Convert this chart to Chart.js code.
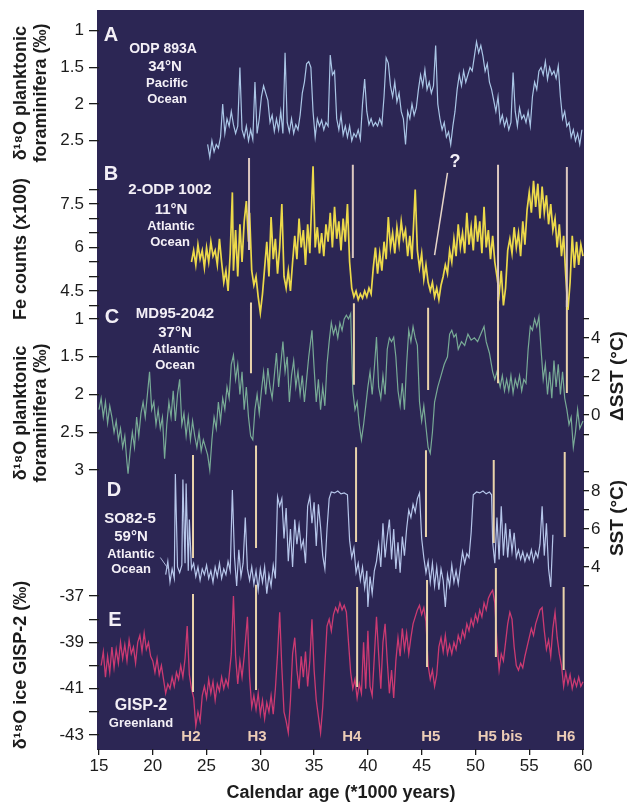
<!DOCTYPE html>
<html lang="en">
<head>
<meta charset="UTF-8" />
<title>Heinrich events in five records, 15-60 ka</title>
<script src="https://cdn.jsdelivr.net/npm/chart.js"></script>
<style>
  body { margin: 0; background: #fff; }
  #stage { position: relative; width: 627px; height: 803px; }
  #stage canvas { position: absolute; left: 0; top: 0; }
</style>
</head>
<body>
<div id="stage">
  <canvas id="chartE" width="627" height="803"></canvas>
  <canvas id="chartD" width="627" height="803"></canvas>
  <canvas id="chartCR" width="627" height="803"></canvas>
  <canvas id="chartC" width="627" height="803"></canvas>
  <canvas id="chartB" width="627" height="803"></canvas>
  <canvas id="chartA" width="627" height="803"></canvas>
</div>

<script>
// ---------- data (age in kyr) ----------

// A: ODP 893A, d18O planktonic (permil)
const ageA = [25.1,25.3,25.5,25.7,25.9,26.1,26.3,26.5,26.7,26.9,27.1,27.3,27.5,27.7,27.9,28.1,28.3,28.5,28.7,28.9,
  29.1,29.3,29.5,29.7,29.9,30.1,30.3,30.5,30.7,30.9,31.1,31.3,31.5,31.7,31.9,32.1,32.3,32.5,32.7,32.9,
  33.1,33.3,33.5,33.7,33.9,34.1,34.3,34.5,34.7,34.9,35.1,35.3,35.5,35.7,35.9,36.1,36.3,36.5,36.7,36.9,
  37.1,37.3,37.5,37.7,37.9,38.1,38.3,38.5,38.7,38.9,39.1,39.3,39.5,39.7,39.9,40.1,40.3,40.5,40.7,40.9,
  41.1,41.3,41.5,41.7,41.9,42.1,42.3,42.5,42.7,42.9,43.1,43.3,43.5,43.7,43.9,44.1,44.3,44.5,44.7,44.9,
  45.1,45.3,45.5,45.7,45.9,46.1,46.3,46.5,46.7,46.9,47.1,47.3,47.5,47.7,47.9,48.1,48.3,48.5,48.7,48.9,
  49.1,49.3,49.5,49.7,49.9,50.1,50.3,50.5,50.7,50.9,51.1,51.3,51.5,51.7,51.9,52.1,52.3,52.5,52.7,52.9,
  53.1,53.3,53.5,53.7,53.9,54.1,54.3,54.5,54.7,54.9,55.1,55.3,55.5,55.7,55.9,56.1,56.3,56.5,56.7,56.9,
  57.1,57.3,57.5,57.7,57.9,58.1,58.3,58.5,58.7,58.9,59.1,59.3,59.5,59.7,59.9];
const d18oA = [2.55,2.72,2.5,2.65,2.55,2.6,2.45,2.0,2.4,2.2,2.3,2.1,2.28,2.4,2.3,1.5,2.35,2.45,2.3,2.5,
  2.35,2.48,1.7,2.4,2.2,1.9,1.75,1.85,1.95,2.25,2.15,2.37,2.2,2.35,2.1,2.4,1.3,2.25,2.38,2.2,
  2.4,2.28,2.35,2.15,1.85,1.7,1.45,1.42,1.5,2.1,2.45,2.2,2.3,2.22,2.35,2.25,2.3,1.33,1.6,1.55,
  2.2,2.35,2.15,2.42,2.3,2.45,2.3,2.5,2.4,2.45,2.35,2.48,2.0,1.66,2.1,2.28,2.2,2.3,2.25,2.3,
  2.2,2.28,1.9,1.37,1.44,1.75,1.9,1.7,1.97,1.85,2.1,2.2,2.55,2.1,2.2,2.0,2.15,2.05,1.8,1.6,
  1.75,1.53,1.8,1.7,1.85,1.75,1.2,2.0,2.2,2.35,2.25,2.45,2.38,2.55,2.3,2.1,1.8,1.6,1.75,1.55,
  1.7,1.6,1.5,1.55,1.35,1.15,1.3,1.2,1.35,1.55,1.45,1.7,1.8,1.95,2.1,1.9,2.25,2.15,2.3,2.2,
  2.35,2.25,1.57,2.1,2.3,2.05,2.2,2.15,2.25,2.1,2.3,1.9,1.7,1.8,1.55,1.5,1.6,1.42,1.66,1.5,
  1.6,1.55,1.65,1.48,1.9,2.2,2.1,2.3,2.25,2.45,2.35,2.5,2.4,2.55,2.35];

// B: 2-ODP 1002, Fe counts (x100)
const ageB = [23.6,23.8,24.0,24.2,24.4,24.6,24.8,25.0,25.2,25.4,25.6,25.8,26.0,26.2,26.4,26.6,26.8,27.0,27.2,27.4,
  27.5,27.7,27.9,28.1,28.3,28.5,28.7,28.9,29.0,29.2,29.4,29.6,29.8,30.0,30.2,30.4,30.6,30.8,31.0,31.2,
  31.4,31.6,31.8,32.0,32.2,32.4,32.6,32.8,33.0,33.2,33.4,33.6,33.8,34.0,34.2,34.4,34.6,34.9,35.1,35.3,
  35.5,35.7,35.9,36.1,36.3,36.5,36.7,36.9,37.1,37.3,37.5,37.7,37.9,38.1,38.3,38.5,38.7,38.9,39.1,39.3,
  39.5,39.7,39.9,40.1,40.3,40.5,40.7,40.9,41.1,41.3,41.5,41.7,41.9,42.1,42.3,42.5,42.7,42.9,43.1,43.3,
  43.5,43.7,43.9,44.1,44.4,44.6,44.8,45.0,45.2,45.4,45.6,45.8,46.0,46.2,46.4,46.6,46.8,47.0,47.2,47.4,
  47.6,47.8,48.0,48.2,48.4,48.6,48.8,49.0,49.2,49.4,49.6,49.8,50.0,50.2,50.4,50.6,50.8,51.0,51.2,51.4,
  51.6,51.8,52.0,52.2,52.4,52.6,52.8,53.0,53.2,53.4,53.6,53.8,54.0,54.2,54.4,54.6,54.8,55.0,55.2,55.4,
  55.6,55.8,56.0,56.2,56.4,56.6,56.8,57.0,57.2,57.4,57.6,57.8,58.0,58.2,58.4,58.6,58.8,59.0,59.2,59.4,
  59.6,59.8,60.0];
const feB = [5.5,5.9,5.4,6.1,5.6,5.9,5.3,6.0,5.5,6.2,5.7,5.9,5.4,6.3,5.5,4.8,5.2,4.5,5.8,7.9,
  5.2,6.6,5.0,6.8,5.5,6.9,7.6,6.2,7.2,5.2,4.7,5.0,4.3,3.75,4.4,5.3,6.2,5.0,7.05,5.6,
  6.3,5.1,6.0,7.5,5.0,4.6,5.2,4.5,5.5,6.4,5.6,7.0,6.0,6.6,5.4,6.8,5.8,8.8,6.0,6.7,
  5.8,6.5,5.7,6.8,6.2,7.2,6.0,7.4,6.3,6.9,5.9,7.0,6.2,7.5,5.5,4.6,4.3,4.5,4.2,4.4,
  4.25,4.5,4.3,4.6,4.4,5.3,6.0,5.1,5.8,5.2,6.2,5.6,7.05,6.0,6.5,5.8,6.7,6.1,6.9,6.3,
  6.6,5.7,6.4,5.6,8.0,5.9,5.3,5.8,4.9,5.4,4.8,4.5,4.8,4.3,4.6,4.2,4.7,5.0,5.4,5.1,
  5.9,5.5,6.3,5.7,6.8,6.0,6.5,5.8,7.2,6.1,6.7,5.9,7.1,6.2,6.9,5.8,7.4,6.0,6.6,5.6,
  6.4,5.5,5.0,4.4,5.2,4.0,4.6,5.9,6.3,5.8,6.7,6.0,6.5,5.7,6.9,6.1,7.3,7.9,7.2,8.3,
  7.4,8.2,7.0,8.1,7.2,7.8,6.8,7.5,6.6,7.0,6.0,6.8,5.7,6.4,5.0,3.85,4.8,6.4,5.3,6.2,
  5.4,6.1,5.7];

// C: MD95-2042, d18O planktonic (permil)
const ageC = [15.0,15.2,15.4,15.6,15.8,16.0,16.2,16.4,16.6,16.8,17.0,17.2,17.4,17.6,17.7,17.9,18.1,18.3,18.5,18.7,
  18.9,19.1,19.3,19.5,19.7,19.9,20.1,20.3,20.5,20.7,20.9,21.1,21.3,21.5,21.7,21.9,22.1,22.3,22.5,22.7,
  22.9,23.1,23.3,23.5,23.7,23.9,24.1,24.3,24.5,24.7,24.9,25.1,25.3,25.5,25.7,25.9,26.1,26.3,26.5,26.7,
  26.9,27.1,27.3,27.5,27.7,27.9,28.1,28.3,28.5,28.7,28.9,29.1,29.3,29.5,29.7,29.9,30.1,30.3,30.5,30.7,
  30.9,31.1,31.3,31.5,31.7,31.9,32.1,32.3,32.5,32.7,32.9,33.1,33.3,33.5,33.7,33.9,34.1,34.3,34.5,34.8,
  35.0,35.2,35.4,35.6,35.8,36.0,36.2,36.4,36.6,36.8,37.0,37.2,37.4,37.6,37.8,38.0,38.2,38.4,38.6,38.8,
  39.0,39.2,39.4,39.6,39.8,40.0,40.2,40.4,40.6,40.8,41.0,41.2,41.4,41.6,41.8,42.0,42.2,42.4,42.6,42.8,
  43.0,43.2,43.4,43.6,43.8,44.0,44.2,44.4,44.6,44.8,45.0,45.2,45.4,45.6,45.8,46.0,46.2,46.5,46.8,47.1,
  47.4,47.6,47.8,48.0,48.2,48.4,48.7,49.0,49.3,49.6,49.9,50.2,50.5,50.8,51.0,51.3,51.6,51.8,52.0,52.3,
  52.5,52.7,52.9,53.1,53.3,53.5,53.7,53.9,54.1,54.3,54.5,54.7,54.9,55.1,55.3,55.5,55.7,55.9,56.1,56.3,
  56.5,56.7,56.9,57.1,57.3,57.5,57.7,57.9,58.1,58.3,58.5,58.7,58.9,59.1,59.3,59.5,59.7,60.0];
const d18oC = [2.2,2.05,2.3,2.1,2.38,2.15,2.3,2.5,2.35,2.6,2.45,2.7,2.55,2.9,3.05,2.75,2.5,2.7,2.3,2.55,
  2.25,2.1,2.3,2.0,1.7,2.2,2.1,2.4,2.2,2.45,2.3,2.85,2.4,2.1,2.3,1.95,2.35,2.0,1.8,2.4,
  2.25,2.55,2.3,2.6,2.35,2.55,2.7,2.5,2.75,2.6,2.7,2.8,3.0,2.6,2.3,2.45,2.1,2.35,2.05,2.2,
  1.9,2.05,1.6,1.48,1.8,1.6,2.0,1.7,2.2,1.9,2.3,2.55,2.6,2.2,2.0,2.25,1.95,1.7,2.0,1.65,
  1.9,2.05,1.75,1.45,1.9,1.6,1.3,1.7,1.5,2.1,1.75,1.55,1.9,1.7,2.0,1.75,2.1,1.8,1.5,1.15,
  1.65,2.1,1.8,2.2,1.9,2.15,1.6,1.3,1.05,1.2,1.1,1.25,1.05,1.15,1.0,0.95,1.0,0.93,1.95,2.2,
  2.1,2.4,2.6,2.4,2.15,1.9,1.7,2.0,1.65,1.24,1.9,2.05,1.75,2.0,1.4,1.25,1.3,1.24,1.5,1.95,
  2.15,1.85,2.2,1.6,1.15,1.3,1.1,1.25,1.35,2.1,2.35,2.15,2.43,2.7,2.78,2.5,2.1,1.9,1.75,1.6,
  1.5,1.2,1.15,1.24,1.2,1.4,1.3,1.35,1.2,1.28,1.25,1.3,1.2,1.1,1.3,1.45,1.7,1.8,1.7,1.9,
  1.75,1.95,1.8,1.95,1.75,1.98,1.8,1.9,1.75,1.95,1.8,1.85,1.4,1.1,1.15,1.0,1.1,0.97,1.4,1.8,
  1.6,2.0,1.7,2.05,1.55,1.9,1.6,2.0,1.7,2.05,2.2,2.4,2.3,2.7,2.5,2.2,2.45,2.35];

// D: SO82-5, SST (deg C)
const ageD = [21.2,21.4,21.6,21.8,22.0,22.1,22.3,22.5,22.7,22.8,23.0,23.1,23.3,23.4,23.6,23.8,24.0,24.2,24.4,24.6,
  24.8,25.0,25.2,25.4,25.6,25.8,26.0,26.2,26.4,26.6,26.8,27.0,27.2,27.4,27.6,27.8,28.0,28.2,28.4,28.6,
  28.8,29.0,29.2,29.4,29.6,29.8,30.0,30.2,30.4,30.6,30.8,31.0,31.2,31.4,31.6,31.8,32.0,32.2,32.4,32.6,
  32.8,33.0,33.2,33.4,33.6,33.8,34.0,34.2,34.4,34.6,34.8,35.0,35.2,35.4,35.6,35.8,36.0,36.2,36.4,36.6,
  36.9,37.2,37.5,37.8,38.1,38.3,38.5,38.7,38.9,39.1,39.3,39.5,39.7,39.9,40.0,40.2,40.4,40.6,40.8,41.0,
  41.2,41.4,41.6,41.8,42.0,42.2,42.4,42.6,42.8,43.0,43.2,43.4,43.6,43.8,44.0,44.2,44.4,44.6,44.8,45.0,
  45.2,45.4,45.6,45.8,46.0,46.2,46.4,46.6,46.8,47.0,47.2,47.4,47.6,47.8,48.0,48.2,48.4,48.6,48.8,49.0,
  49.2,49.4,49.6,49.8,50.1,50.4,50.7,51.0,51.3,51.5,51.6,51.8,52.0,52.2,52.4,52.6,52.8,53.0,53.2,53.4,
  53.6,53.8,54.0,54.2,54.4,54.6,54.8,55.0,55.2,55.4,55.6,55.8,56.0,56.2,56.4,56.6,56.8,57.0,57.2];
const sstD = [3.6,4.3,3.2,3.9,3.4,8.9,4.0,3.7,4.1,8.6,4.2,8.4,3.8,6.5,3.9,4.2,3.5,4.0,3.3,3.9,
  3.6,4.1,3.4,3.8,3.2,4.0,3.5,4.2,3.4,3.9,3.6,4.3,3.8,8.05,4.5,3.0,4.9,3.5,4.2,6.6,
  3.9,3.3,4.0,3.1,3.8,2.8,3.9,3.2,4.0,2.6,3.6,3.0,4.1,3.4,7.7,7.2,7.6,5.5,7.1,4.3,
  6.0,4.0,6.5,5.2,6.2,5.0,5.4,4.2,7.2,7.7,6.3,7.4,5.1,7.3,6.1,4.6,3.9,6.0,7.6,7.95,
  7.9,8.0,7.85,7.9,7.8,5.4,4.5,5.0,3.7,4.2,3.3,4.0,2.9,3.8,1.9,3.5,2.6,3.8,4.3,5.2,
  4.0,6.3,4.5,5.6,6.5,4.4,6.0,3.9,5.3,3.7,5.6,4.6,6.0,7.0,6.6,7.3,6.9,7.6,7.9,5.5,
  4.5,3.7,4.3,3.2,4.2,3.0,4.0,2.8,3.9,3.3,1.9,3.6,3.0,4.1,3.2,3.8,3.1,4.0,4.8,4.2,
  4.7,4.5,5.8,7.8,7.95,7.9,8.0,7.85,7.95,7.8,5.3,4.2,6.6,4.4,7.2,4.6,6.3,4.5,6.0,4.8,
  5.8,4.5,4.9,4.4,4.8,4.3,4.7,4.4,4.9,4.3,4.8,4.5,5.2,7.2,4.6,6.3,3.9,2.95,5.7];

// E: GISP-2, d18O ice (permil)
const ageE = [15.2,15.4,15.6,15.8,16.0,16.2,16.4,16.6,16.8,17.0,17.2,17.4,17.6,17.8,18.0,18.2,18.4,18.6,18.8,19.0,
  19.2,19.4,19.6,19.8,20.0,20.2,20.4,20.6,20.8,21.0,21.2,21.4,21.6,21.8,22.0,22.2,22.4,22.6,22.8,23.0,
  23.2,23.4,23.6,23.8,24.0,24.2,24.4,24.6,24.8,25.0,25.2,25.4,25.6,25.8,26.0,26.2,26.4,26.6,26.8,27.0,
  27.3,27.5,27.7,27.9,28.1,28.3,28.5,28.8,29.0,29.2,29.4,29.6,29.8,30.0,30.2,30.4,30.6,30.8,31.0,31.2,
  31.4,31.6,31.8,32.0,32.2,32.4,32.6,32.8,33.0,33.2,33.4,33.6,33.8,34.0,34.2,34.4,34.6,34.8,35.0,35.2,
  35.4,35.6,35.8,36.0,36.2,36.4,36.6,36.8,37.0,37.2,37.4,37.6,37.8,38.0,38.2,38.4,38.6,38.8,39.0,39.2,
  39.4,39.6,39.8,40.0,40.2,40.4,40.6,40.8,41.0,41.2,41.4,41.6,41.8,42.0,42.2,42.4,42.6,42.8,43.0,43.2,
  43.4,43.6,43.8,44.0,44.2,44.4,44.6,44.8,45.0,45.2,45.4,45.6,45.8,46.0,46.2,46.4,46.6,46.8,47.0,47.2,
  47.4,47.6,47.8,48.0,48.2,48.4,48.6,48.8,49.0,49.2,49.4,49.6,49.8,50.0,50.2,50.4,50.6,50.8,51.0,51.2,
  51.4,51.6,51.8,52.0,52.2,52.4,52.6,52.8,53.0,53.2,53.4,53.6,53.8,54.0,54.2,54.4,54.6,54.8,55.0,55.2,
  55.4,55.6,55.8,56.0,56.2,56.4,56.6,56.8,57.0,57.2,57.4,57.6,57.8,58.0,58.2,58.4,58.6,58.8,59.0,59.2,
  59.4,59.6,59.8,60.0];
const d18oE = [-40.0,-39.4,-40.5,-39.6,-40.3,-39.2,-40.1,-39.3,-39.9,-39.0,-39.7,-39.1,-39.8,-38.9,-39.5,-39.2,-39.9,-39.0,-38.7,-39.4,
  -38.6,-39.3,-39.0,-39.6,-39.8,-40.3,-39.7,-40.4,-40.0,-40.6,-41.2,-40.8,-41.0,-40.5,-40.9,-40.3,-40.6,-40.0,-40.5,-39.7,
  -38.3,-40.4,-41.0,-41.4,-42.6,-42.0,-42.4,-41.3,-40.9,-41.4,-40.6,-41.2,-40.7,-41.5,-40.8,-41.1,-40.5,-41.0,-40.6,-40.9,
  -39.5,-37.0,-39.6,-40.8,-39.8,-40.5,-39.6,-37.9,-40.5,-41.8,-41.3,-41.9,-41.2,-42.1,-41.5,-42.3,-41.6,-42.0,-41.3,-42.1,
  -41.0,-39.5,-37.7,-40.1,-42.0,-42.4,-42.9,-41.5,-39.5,-38.8,-40.2,-41.0,-39.6,-40.5,-39.4,-40.9,-39.8,-38.0,-40.2,-41.5,
  -42.2,-42.9,-41.8,-40.0,-38.3,-38.0,-38.5,-37.8,-37.5,-37.7,-37.3,-37.6,-37.4,-37.7,-39.0,-40.3,-41.0,-40.6,-41.4,-40.8,
  -41.2,-39.0,-41.0,-38.5,-40.9,-41.3,-39.6,-37.9,-39.5,-41.0,-39.0,-38.2,-39.8,-41.2,-40.2,-41.4,-39.8,-38.8,-39.6,-38.4,
  -39.3,-38.6,-39.5,-38.8,-38.2,-37.9,-37.6,-37.4,-37.8,-37.5,-38.1,-40.0,-40.6,-40.2,-40.9,-40.4,-39.2,-38.8,-39.4,-38.7,
  -39.5,-39.1,-39.5,-39.0,-39.3,-38.7,-39.0,-38.5,-38.8,-38.2,-38.5,-38.0,-38.3,-37.8,-38.1,-37.6,-37.9,-37.3,-37.6,-37.1,
  -36.9,-36.75,-37.3,-39.0,-40.2,-39.5,-39.8,-39.0,-38.2,-37.7,-38.0,-39.2,-40.0,-40.2,-39.9,-40.1,-39.6,-39.2,-38.8,-38.4,
  -38.7,-38.2,-37.9,-37.6,-37.5,-38.5,-39.3,-38.9,-39.6,-38.4,-37.7,-38.8,-39.5,-40.0,-40.9,-40.3,-40.8,-40.4,-41.0,-40.6,
  -40.9,-40.5,-40.9,-40.7];

// Heinrich event markers, per panel: age, upper and lower end (panel units)
const hAgeB = [28.95, 38.6, 52.1, 58.5];
const hTopB = [9.09, 8.85, 8.85, 8.78];
const hBotB = [5.91, 5.64, 4.29, 3.95];
const hAgeC = [29.13, 38.7, 45.6, 52.1, 58.5];
const hTopC = [0.78, 0.79, 0.85, 0.71, 0.75];
const hBotC = [1.72, 1.87, 1.94, 1.85, 1.98];
const hAgeD = [23.74, 29.6, 38.9, 45.4, 51.7, 58.3];
const hTopD = [9.9, 10.4, 10.3, 10.15, 9.63, 10.05];
const hBotD = [4.47, 5.0, 5.32, 5.58, 5.26, 5.58];
const hAgeE = [23.74, 29.6, 39.0, 45.5, 51.9, 58.2];
const hTopE = [-36.91, -36.52, -36.61, -36.31, -35.79, -36.61];
const hBotE = [-41.14, -41.06, -40.93, -40.06, -39.63, -40.19];
const hLabels = ['H2', 'H3', 'H4', 'H5', 'H5 bis', 'H6'];
const hLabelAge = [23.55, 29.7, 38.5, 45.85, 52.3, 58.4];

// pointer lines ("?" in panel B, label leader in panel D)
const qAge = [47.4, 46.2];
const qFe = [8.57, 5.74];
const leadAge = [20.7, 21.5];
const leadSst = [4.5, 3.85];

// ticks
const ticksX = [15, 20, 25, 30, 35, 40, 45, 50, 55, 60];
const ticksA = [1, 1.5, 2, 2.5];
const ticksB = [4, 4.5, 5, 5.5, 6, 6.5, 7, 7.5, 8];
const labelsB = [4.5, 6, 7.5];
const ticksC = [1, 1.5, 2, 2.5, 3];
const ticksCR = [-1, 0, 1, 2, 3, 4, 5];
const labelsCR = [0, 2, 4];
const ticksD = [3, 4, 5, 6, 7, 8, 9];
const labelsD = [4, 6, 8];
const ticksE = [-43, -42, -41, -40, -39, -38, -37];
const labelsE = [-43, -41, -39, -37];

// ---------- drawing ----------
const FONT = "'Liberation Sans', Arial, Helvetica, sans-serif";
const INK = '#1c1c1c';
const H_COLOR = '#e9d3ab';
Chart.defaults.font.family = FONT;
Chart.defaults.color = INK;

const pts = (xs, ys) => xs.map((x, i) => ({x: x, y: ys[i]}));
const bars = (xs, tops, bots) => xs.flatMap((x, i) => [{x: x, y: tops[i]}, {x: x, y: bots[i]}, {x: x, y: null}]);

function series(data, color, width) {
  return {data: data, borderColor: color, borderWidth: width, pointRadius: 0, tension: 0, clip: false, order: 2};
}
function marks(data, color, width) {
  return {data: data, borderColor: color || H_COLOR, borderWidth: width || 2, pointRadius: 0, clip: false, spanGaps: false, order: 1};
}

function xAxis(show) {
  return {
    type: 'linear', min: 15, max: 60, display: show,
    afterFit: s => { if (show) s.height = 54; },
    afterBuildTicks: s => { s.ticks = ticksX.map(v => ({value: v})); },
    border: {display: false},
    grid: {drawOnChartArea: false, tickLength: 6, color: INK, lineWidth: 1.3},
    ticks: {autoSkip: false, maxRotation: 0, padding: 1, font: {size: 17}, color: INK},
    title: {display: show, text: 'Calendar age (*1000 years)', color: INK,
            font: {size: 18, weight: 'bold', lineHeight: 1.1}, padding: {top: 0, bottom: 0}}
  };
}

function yAxis(o) {
  const left = o.pos === 'left';
  const labels = o.labels || o.ticks;
  return {
    type: 'linear', position: o.pos, min: o.min, max: o.max, reverse: !!o.reverse,
    afterFit: s => { s.width = left ? 99 : 44; },
    afterBuildTicks: s => { s.ticks = o.ticks.map(v => ({value: v})); },
    border: {display: false},
    grid: {drawOnChartArea: false, tickLength: left ? 10 : 6, color: INK, lineWidth: 1.3},
    ticks: {autoSkip: false, padding: left ? 5 : 2, font: {size: 17}, color: INK,
            callback: v => labels.includes(v) ? String(v) : ''},
    title: o.title
      ? {display: true, text: o.title, color: INK, font: {size: 18, weight: 'bold', lineHeight: 1.1}, padding: {top: 11, bottom: 0}}
      : {display: false}
  };
}

function makeChart(id, pad, scales, datasets, plugins) {
  return new Chart(document.getElementById(id), {
    type: 'line',
    data: {datasets: datasets},
    options: {
      responsive: false, animation: false, events: [],
      layout: {padding: pad},
      plugins: {legend: {display: false}, tooltip: {enabled: false}},
      scales: scales
    },
    plugins: plugins || []
  });
}

// dark plot field
const backdrop = {
  id: 'backdrop',
  beforeDraw(chart) {
    const {ctx, chartArea: a} = chart;
    ctx.save();
    ctx.fillStyle = '#2c2654';
    ctx.fillRect(a.left - 2, 10, a.right - a.left + 3, a.bottom - 9);
    ctx.restore();
  }
};

// panel names, Heinrich labels, right-hand axis titles
const panelText = [
  ['A', 111, 35, 20], ['ODP 893A', 163, 49, 14], ['34°N', 165, 67, 15], ['Pacific', 167, 83, 13], ['Ocean', 167, 99, 13],
  ['B', 111, 174, 20], ['2-ODP 1002', 170, 190, 15], ['11°N', 171, 210, 15], ['Atlantic', 171, 226, 13], ['Ocean', 170, 242, 13],
  ['C', 112, 317, 20], ['MD95-2042', 175, 314, 15], ['37°N', 175, 333, 15], ['Atlantic', 176, 349, 13], ['Ocean', 175, 365, 13],
  ['D', 114, 490, 20], ['SO82-5', 130, 519, 15], ['59°N', 131, 537, 15], ['Atlantic', 131, 554, 13], ['Ocean', 131, 569, 13],
  ['E', 115, 620, 20], ['GISP-2', 141, 706, 16], ['Greenland', 141, 723, 13],
  ['?', 455, 162, 18]
];
const notes = {
  id: 'notes',
  afterDraw(chart) {
    const ctx = chart.ctx;
    const xs = chart.scales.x;
    ctx.save();
    ctx.textAlign = 'center';
    ctx.textBaseline = 'middle';
    ctx.fillStyle = '#f3eff6';
    for (const [t, x, y, size] of panelText) {
      ctx.font = 'bold ' + size + 'px ' + FONT;
      ctx.fillText(t, x, y);
    }
    ctx.font = 'bold 15px ' + FONT;
    ctx.fillStyle = '#ecccb6';
    hLabels.forEach((t, i) => ctx.fillText(t, xs.getPixelForValue(hLabelAge[i]), 737));
    ctx.font = 'bold 19px ' + FONT;
    ctx.fillStyle = INK;
    [['ΔSST (°C)', 376], ['SST (°C)', 518]].forEach(([t, y]) => {
      ctx.save();
      ctx.translate(618, y);
      ctx.rotate(-Math.PI / 2);
      ctx.fillText(t, 0, 0);
      ctx.restore();
    });
    ctx.restore();
  }
};

// E (bottom layer, also carries the x axis and the dark field)
makeChart('chartE', {top: 581, bottom: 0, left: 0, right: 44},
  {x: xAxis(true),
   y: yAxis({pos: 'left', min: -43.603, max: -36.353, ticks: ticksE, labels: labelsE, title: 'δ¹⁸O ice GISP-2 (‰)'})},
  [series(pts(ageE, d18oE), '#cc3a72', 1.3), marks(bars(hAgeE, hTopE, hBotE))],
  [backdrop]);

// D
makeChart('chartD', {top: 465, bottom: 208, left: 99, right: 0},
  {x: xAxis(false),
   y: yAxis({pos: 'right', min: 2.526, max: 9.368, ticks: ticksD, labels: labelsD})},
  [series(pts(ageD, sstD), '#b6c6ea', 1.2), marks(bars(hAgeD, hTopD, hBotD)),
   marks(pts(leadAge, leadSst), '#a9b3d6', 1)]);

// C, right-hand delta SST axis
makeChart('chartCR', {top: 310, bottom: 363, left: 99, right: 0},
  {x: xAxis(false),
   y: yAxis({pos: 'right', min: -1.2987, max: 5.4545, ticks: ticksCR, labels: labelsCR})},
  []);

// C
makeChart('chartC', {top: 317, bottom: 294, left: 0, right: 44},
  {x: xAxis(false),
   y: yAxis({pos: 'left', min: 0.9735, max: 3.5166, reverse: true, ticks: ticksC,
             title: ['δ¹⁸O planktonic', 'foraminifera (‰)']})},
  [series(pts(ageC, d18oC), '#78aa96', 1.2), marks(bars(hAgeC, hTopC, hBotC))]);

// B
makeChart('chartB', {top: 171, bottom: 476, left: 0, right: 44},
  {x: xAxis(false),
   y: yAxis({pos: 'left', min: 3.259, max: 8.638, ticks: ticksB, labels: labelsB, title: 'Fe counts (x100)'})},
  [series(pts(ageB, feB), '#ecd94a', 1.7), marks(bars(hAgeB, hTopB, hBotB), '#dcc8c0'),
   marks(pts(qAge, qFe), '#e6d6c8', 1.5)]);

// A (top layer, carries the annotations)
makeChart('chartA', {top: 11, bottom: 632, left: 0, right: 44},
  {x: xAxis(false),
   y: yAxis({pos: 'left', min: 0.788, max: 2.912, reverse: true, ticks: ticksA,
             title: ['δ¹⁸O planktonic', 'foraminifera (‰)']})},
  [series(pts(ageA, d18oA), '#aac6e6', 1.2)],
  [notes]);
</script>
</body>
</html>
